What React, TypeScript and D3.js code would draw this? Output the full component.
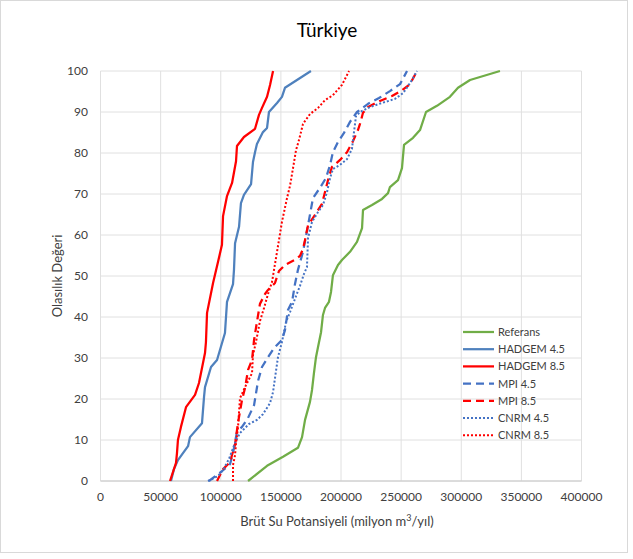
import React from "react";
import * as d3 from "d3";

type Pt = [number, number];

const xTicks = [0, 50000, 100000, 150000, 200000, 250000, 300000, 350000, 400000];
const yTicks = [0, 10, 20, 30, 40, 50, 60, 70, 80, 90, 100];

const referans: Pt[] = [
  [122700, 0], [138500, 3.7], [151800, 5.9], [164200, 8.1], [167600, 10.7], [170100, 14.9],
  [174200, 19.3], [175900, 22.2], [177500, 26.3], [179200, 30.2], [180900, 32.7], [183400, 36.3],
  [185000, 40.5], [186700, 42.2], [190000, 43.7], [191700, 46.1], [193300, 50.2], [197500, 52.7],
  [200800, 53.9], [207500, 55.9], [213300, 58.3], [217500, 61.7], [218300, 66.1], [225800, 67.3],
  [234100, 68.8], [239100, 70.2], [240700, 71.7], [247400, 73.4], [250700, 76.3], [252400, 82.0],
  [259900, 83.7], [265700, 85.6], [270700, 90.0], [279800, 91.5], [290600, 93.7], [297300, 95.9],
  [307300, 97.8], [332200, 100],
];

const hadgem45: Pt[] = [
  [58600, 0], [61100, 2.9], [64400, 5.1], [72800, 8.5], [74400, 10.7], [84400, 14.1],
  [86100, 20.5], [86900, 22.9], [91900, 27.8], [96900, 29.5], [103500, 36.1], [105200, 43.7],
  [110200, 48.0], [111000, 51.5], [111900, 58.0], [115200, 62.0], [116800, 67.8], [119300, 69.8],
  [125200, 72.4], [126800, 77.8], [128500, 80.2], [130100, 82.2], [135100, 85.1], [138500, 86.1],
  [140100, 90.0], [146800, 92.2], [150900, 93.7], [153400, 95.9], [175000, 100],
];

const hadgem85: Pt[] = [
  [57800, 0], [62800, 4.4], [63600, 6.8], [64400, 10.0], [66900, 13.2], [71100, 18.0],
  [78600, 21.0], [81900, 23.9], [86900, 31.2], [87700, 33.9], [88600, 41.0], [93600, 48.3],
  [97700, 53.4], [101000, 57.6], [101900, 64.6], [105200, 69.5], [109400, 72.7], [112700, 78.0],
  [113500, 81.7], [119300, 83.9], [128500, 85.9], [131800, 89.3], [134300, 91.0], [138500, 93.7],
  [141000, 96.6], [143500, 100],
];

const mpi45: Pt[] = [
  [90200, 0], [100200, 2.2], [107700, 4.1], [110200, 6.8], [113500, 12.0], [117700, 13.2],
  [122700, 15.4], [127700, 18.5], [131000, 24.4], [134300, 27.8], [139300, 30.2], [144300, 32.4],
  [150900, 34.4], [153400, 36.8], [155900, 41.7], [159300, 43.7], [161700, 48.0], [164200, 51.5],
  [168400, 55.9], [172600, 62.4], [176700, 69.0], [182500, 71.5], [187500, 73.9], [190900, 77.1],
  [193300, 80.2], [197500, 82.7], [202500, 84.9], [207500, 87.6], [213300, 90.0], [222500, 92.0],
  [231600, 93.4], [240700, 95.1], [249100, 96.8], [254900, 100],
];

const mpi85: Pt[] = [
  [96900, 0], [101900, 2.9], [107700, 4.6], [111900, 9.0], [114300, 14.1], [117700, 19.8],
  [120200, 22.7], [122700, 27.1], [126000, 29.5], [127700, 34.4], [130100, 38.8], [132600, 43.2],
  [136800, 45.6], [139300, 46.6], [145100, 48.3], [148400, 51.2], [153400, 52.7], [162600, 54.1],
  [165900, 54.9], [168400, 56.6], [170100, 58.8], [172600, 62.4], [178400, 64.9], [184200, 67.6],
  [186700, 70.5], [189200, 73.4], [192500, 76.6], [199200, 78.3], [205000, 80.2], [210000, 82.9],
  [214100, 85.6], [215800, 87.1], [218300, 89.8], [222500, 91.2], [232400, 92.7], [242400, 93.9],
  [250700, 95.3], [257400, 96.8], [263200, 100],
];

const cnrm45: Pt[] = [
  [89400, 0], [97700, 1.2], [101900, 2.7], [106900, 5.4], [111900, 9.3], [116000, 11.7],
  [123500, 13.9], [130100, 14.9], [135100, 16.3], [141000, 19.0], [143500, 21.7], [145100, 25.1],
  [147600, 30.2], [150900, 33.9], [154300, 38.8], [157600, 41.2], [162600, 45.1], [165900, 47.6],
  [169200, 50.5], [171700, 52.2], [172600, 59.3], [175900, 63.2], [180900, 65.6], [185000, 67.3],
  [188400, 70.5], [190900, 73.9], [193300, 76.1], [199200, 77.1], [205000, 78.5], [209100, 81.0],
  [210800, 85.1], [212500, 89.0], [215800, 90.0], [224100, 91.2], [234100, 92.2], [244900, 93.2],
  [251600, 94.6], [255700, 96.3], [259000, 97.8], [263200, 100],
];

const cnrm85: Pt[] = [
  [110200, 0], [110200, 3.9], [111900, 6.3], [112700, 9.3], [114300, 12.9], [116000, 20.2],
  [120200, 22.9], [126000, 26.3], [126800, 30.7], [129300, 33.9], [132600, 39.0], [136000, 42.2],
  [139300, 45.6], [142600, 48.5], [146800, 55.9], [150900, 63.2], [155100, 69.0], [157600, 72.0],
  [160100, 76.3], [162600, 80.7], [165100, 83.2], [168400, 87.1], [174200, 89.5], [180900, 91.0],
  [186700, 92.9], [193300, 94.1], [200800, 96.6], [206700, 100],
];

const seriesNames = ["Referans", "HADGEM 4.5", "HADGEM 8.5", "MPI 4.5", "MPI 8.5", "CNRM 4.5", "CNRM 8.5"];
const seriesData = [referans, hadgem45, hadgem85, mpi45, mpi85, cnrm45, cnrm85];

const styles = [
  { color: "#70AD47", dash: "", width: 2.25 },
  { color: "#4F81BD", dash: "", width: 2.25 },
  { color: "#FF0000", dash: "", width: 2.25 },
  { color: "#4472C4", dash: "8,5", width: 2.25 },
  { color: "#FF0000", dash: "8,5", width: 2.25 },
  { color: "#4472C4", dash: "2,2", width: 2 },
  { color: "#FF0000", dash: "2,2", width: 2 },
];

const W = 633;
const H = 559;
const plot = { left: 100.5, right: 581.5, top: 71, bottom: 481 };
const FONT = "Lato, 'Open Sans', sans-serif";

export default function App() {
  const x = d3.scaleLinear().domain([0, 400000]).range([plot.left, plot.right]);
  const y = d3.scaleLinear().domain([0, 100]).range([plot.bottom, plot.top]);
  const line = d3
    .line<Pt>()
    .x((d) => x(d[0]))
    .y((d) => y(d[1]));

  const legendX = 463;
  const legendY0 = 332;
  const legendStep = 17.2;

  return (
    <svg
      width={W}
      height={H}
      style={{ position: "absolute", left: 0, top: 0, background: "#fff" }}
      fontFamily={FONT}
    >
      <rect x={0.5} y={0.5} width={627} height={552} fill="#fff" stroke="#d9d9d9" />
      <text x={327} y={37} textAnchor="middle" fontSize={19} fill="#000">
        Türkiye
      </text>
      {xTicks.map((t) => (
        <line key={"gx" + t} x1={x(t)} x2={x(t)} y1={plot.top} y2={plot.bottom} stroke="#e0e0e0" strokeWidth={1} />
      ))}
      {yTicks.map((t) => (
        <line key={"gy" + t} x1={plot.left} x2={plot.right} y1={y(t)} y2={y(t)} stroke="#e0e0e0" strokeWidth={1} />
      ))}
      <line x1={plot.left} x2={plot.right} y1={plot.bottom} y2={plot.bottom} stroke="#c8c8c8" strokeWidth={1} />
      {yTicks.map((t) => (
        <text key={"ty" + t} x={88} y={y(t) + 4} textAnchor="end" fontSize={12} fill="#404040">
          {t}
        </text>
      ))}
      {xTicks.map((t) => (
        <text key={"tx" + t} x={x(t)} y={501} textAnchor="middle" fontSize={12} fill="#404040">
          {t}
        </text>
      ))}
      <text x={337} y={526} textAnchor="middle" fontSize={13} fill="#404040">
        Brüt Su Potansiyeli (milyon m
        <tspan dy={-5} fontSize={9}>3</tspan>
        <tspan dy={5}>/yıl)</tspan>
      </text>
      <text
        transform={`translate(62,${(plot.top + plot.bottom) / 2}) rotate(-90)`}
        textAnchor="middle"
        fontSize={13}
        fill="#404040"
      >
        Olasılık Değeri
      </text>
      {seriesData.map((data, i) => (
        <path
          key={seriesNames[i]}
          d={line(data) || ""}
          fill="none"
          stroke={styles[i].color}
          strokeWidth={styles[i].width}
          strokeDasharray={styles[i].dash || undefined}
          strokeLinejoin="round"
        />
      ))}
      {seriesNames.map((name, i) => {
        const ly = legendY0 + i * legendStep;
        return (
          <g key={"lg" + name}>
            <line
              x1={legendX}
              x2={legendX + 31}
              y1={ly}
              y2={ly}
              stroke={styles[i].color}
              strokeWidth={styles[i].width}
              strokeDasharray={styles[i].dash || undefined}
            />
            <text x={legendX + 35} y={ly + 4} fontSize={11} fill="#404040">
              {name}
            </text>
          </g>
        );
      })}
    </svg>
  );
}
